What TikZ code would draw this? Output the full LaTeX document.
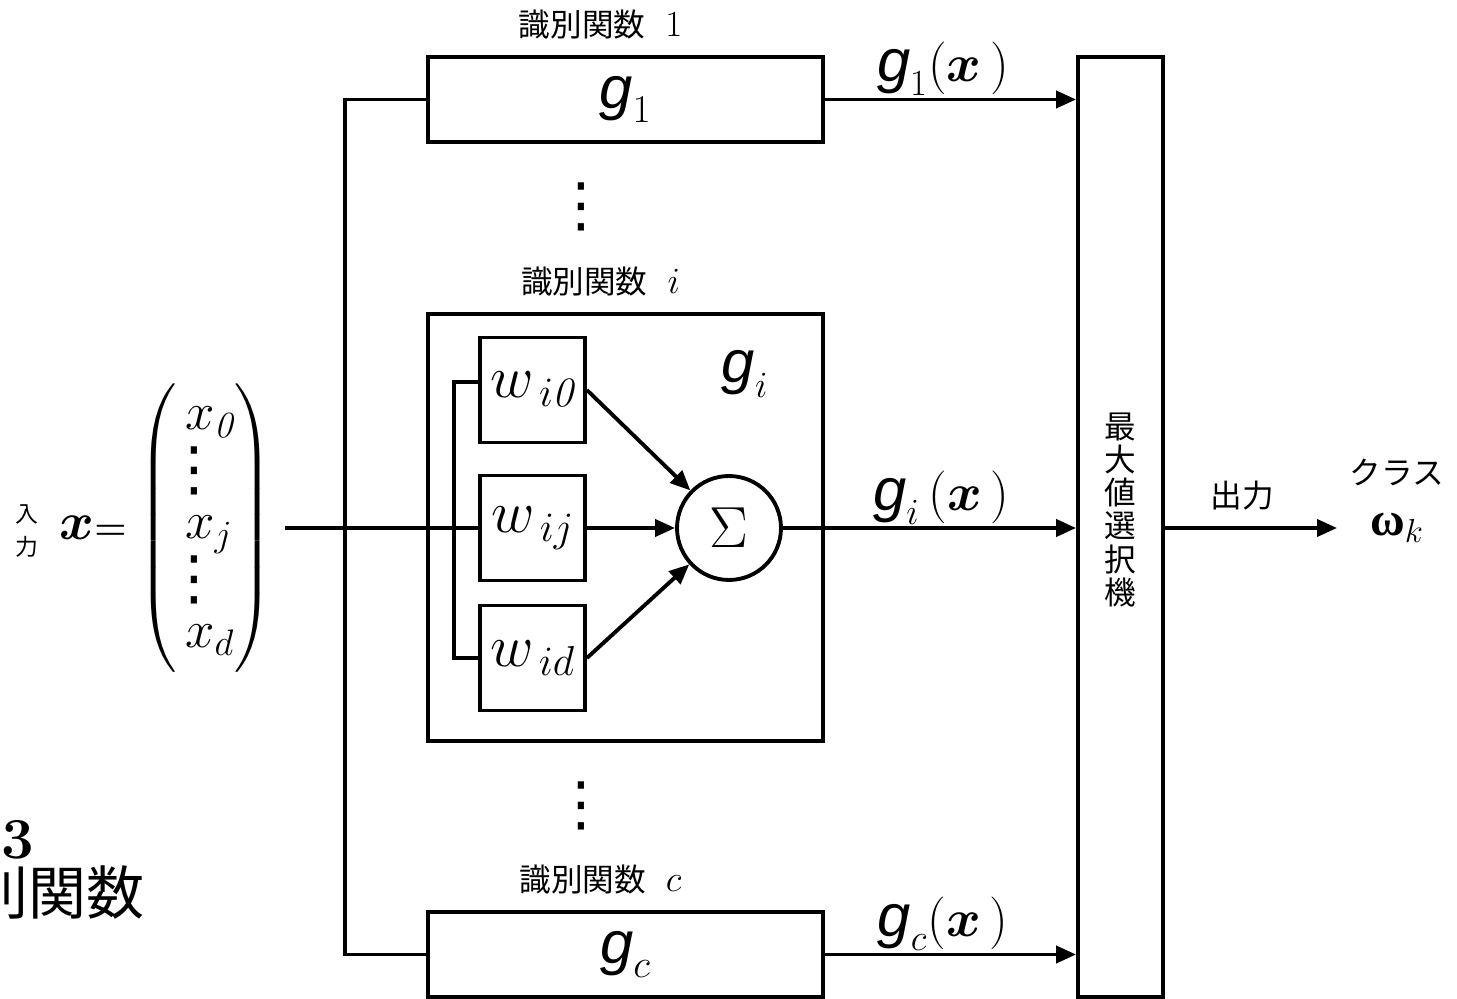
\RequirePackage{fix-cm}
\documentclass[tikz,border=0pt]{standalone}
\usepackage{amsmath}
\usepackage{bm}
\usepackage{fontspec}
\newfontfamily\jp{Noto Sans CJK JP}
\newfontfamily\hv{Liberation Sans}
\newfontfamily\tms{Liberation Serif}
\newfontfamily\dv{DejaVu Sans}
\usetikzlibrary{arrows.meta,positioning}

% vertical ellipsis and discriminant symbol
\newcommand{\vdts}{\vcenter{\hbox{\dv\fontsize{34}{40}\selectfont ⋮}}}
\newcommand{\gfn}{\mbox{\hv\itshape\fontsize{34}{40}\selectfont g}}

\tikzset{
  blk/.style={draw, line width=2.2pt, inner sep=0pt},
  wire/.style={line width=2.2pt},
  arr/.style={wire, -{Triangle[length=0.4cm,width=0.34cm]}},
  jlab/.style={font=\jp\fontsize{18}{21}\selectfont},
  mathlab/.style={font=\fontsize{30}{34}\selectfont, inner sep=1pt},
}

\begin{document}
\begin{tikzpicture}[x=0.02cm, y=-0.02cm]
  \useasboundingbox (0,0) rectangle (1457,999);

  % discriminant blocks and max selector
  \node[blk, minimum width=7.9cm, minimum height=1.7cm, font=\fontsize{32}{38}\selectfont] (g1) at (625.5,99.5) {$\gfn_1$};
  \node[blk, minimum width=7.9cm, minimum height=8.54cm] (gi) at (625.5,527.5) {};
  \node[blk, minimum width=7.9cm, minimum height=1.7cm, font=\fontsize{32}{38}\selectfont] (gc) at (625.5,954.5) {$\gfn_c$};
  \node[blk, minimum width=1.7cm, minimum height=18.8cm] (mx) at (1120.5,527) {};
  \node[align=center, font=\jp\fontsize{18}{18.8}\selectfont] (mxtxt) at (1120,510) {最\\大\\値\\選\\択\\機};

  \node[jlab, above=0.2cm of g1.north, xshift=-0.5cm] (g1lab) {識別関数\hspace{0.4cm}{\fontsize{21}{24}\selectfont$1$}};
  \node[jlab, above=0.2cm of gi.north, xshift=-0.5cm] (gilab) {識別関数\hspace{0.4cm}{\fontsize{21}{24}\selectfont$i$}};
  \node[jlab, above=0.2cm of gc.north, xshift=-0.5cm] (gclab) {識別関数\hspace{0.4cm}{\fontsize{21}{24}\selectfont$c$}};
  \node[font=\fontsize{30}{36}\selectfont] (gisym) at (745,374) {$\gfn_i$};

  \node (dots1) at (581,207) {$\vdts$};
  \node (dots2) at (581,806) {$\vdts$};

  % inner unit
  \node[blk, minimum size=2.1cm, font=\fontsize{34}{40}\selectfont] (wi0) at (532.5,390) {$w_{\,i\mathit{0}}$};
  \node[blk, minimum size=2.1cm, font=\fontsize{34}{40}\selectfont] (wij) at (532.5,528) {$w_{\,ij}$};
  \node[blk, minimum size=2.1cm, font=\fontsize{34}{40}\selectfont] (wid) at (532.5,658) {$w_{\,id}$};
  \node[blk, circle, minimum size=2.08cm, font=\fontsize{33}{40}\selectfont] (sum) at (729,528) {$\Sigma$};

  % input
  \node[align=center, font=\jp\fontsize{13}{19}\selectfont] (inlab) at (27,531) {入\\力};
  \node[anchor=east, inner sep=0pt, font=\fontsize{30}{31}\selectfont] (vec) at (273,528)
    {$\left(\begin{array}{@{\,}l@{}} x_{\mathit{0}}\\ \kern-12pt\vdts\\ x_j\\ \kern-12pt\vdts\\ x_d\end{array}\right)$};
  \node[anchor=east, inner sep=0pt, font=\fontsize{30}{36}\selectfont] (xeq) at (127,528)
    {$\bm{x}\mbox{\bfseries\fontsize{21}{24}\selectfont$\bm{=}$}$};

  \coordinate (in) at (285,528);
  \coordinate (bus) at (345,528);
  \coordinate (ibus) at (454,528);
  \coordinate (out) at (1337,528);

  \draw[wire] (in) -- (wij);
  \draw[wire] (g1.west) -| (bus) |- (gc.west);
  \draw[wire] ([yshift=0.16cm]wi0.west) -| (ibus) |- (wid.west);
  \draw[arr] (wi0.east) -- (sum);
  \draw[arr] (wij) -- (sum);
  \draw[arr] (wid.east) -- (sum);

  % outputs
  \draw[arr] (g1.east) -- (g1.east -| mx.west) node[pos=0.47, above, mathlab] {$\gfn_1(\bm{x}\,)$};
  \draw[arr] (sum) -- (sum -| mx.west) node[pos=0.54, above, mathlab] {$\gfn_i\,(\bm{x}\,)$};
  \draw[arr] (gc.east) -- (gc.east -| mx.west) node[pos=0.47, above, mathlab] {$\gfn_c(\bm{x}\,)$};
  \draw[arr] (mx.east |- out) -- (out) node[pos=0.45, above=0.2cm, jlab] {出力};

  \node[font=\fontsize{27}{32}\selectfont] (omega) at (1397,528) {$\mbox{\tms\bfseries ω}_k$};
  \node[jlab, above=0.3cm of omega] (cls) {クラス};

  % caption remnant
  \node[anchor=east, inner sep=0pt, font=\bfseries\fontsize{33}{40}\selectfont] (fignum) at (34,840) {3};
  \node[anchor=east, inner sep=0pt, font=\jp\fontsize{33}{40}\selectfont] (figcap) at (145,893) {識別関数};
\end{tikzpicture}
\end{document}
